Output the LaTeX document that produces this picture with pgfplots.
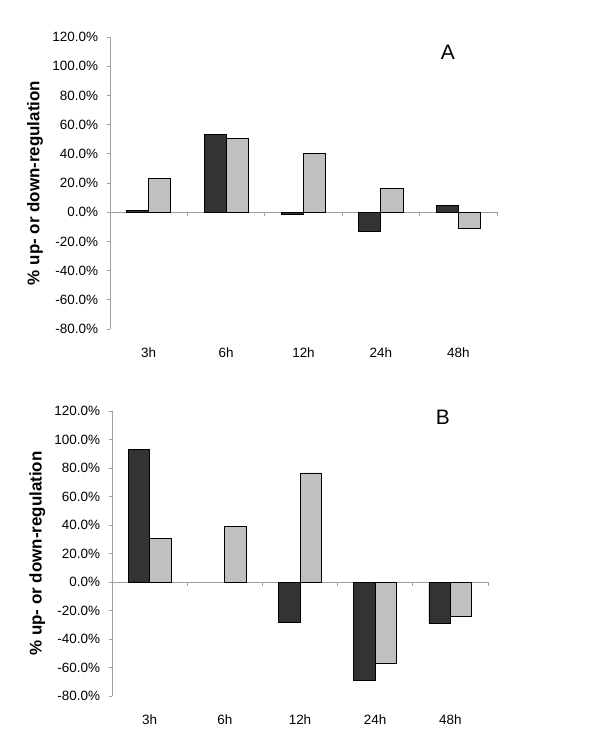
\documentclass[border=0pt]{standalone}
\usepackage{fontspec}
\setmainfont{Liberation Sans}
\usepackage{pgfplots}
\pgfplotsset{compat=1.18}
\definecolor{darkbar}{HTML}{333333}
\definecolor{lightbar}{HTML}{C0C0C0}
\definecolor{axgray}{HTML}{A0A0A0}

\pgfplotsset{
  panel/.style={
    scale only axis,
    anchor=south west,
    xmin=-0.5, xmax=4.5,
    ymin=-80, ymax=120,
    axis y line*=left,
    axis x line*=bottom,
    x axis line style={draw=none},
    y axis line style={draw=axgray, line width=0.8bp},
    ytick={-80,-60,...,120},
    yticklabels={-80.0\%,-60.0\%,-40.0\%,-20.0\%,0.0\%,20.0\%,40.0\%,60.0\%,80.0\%,100.0\%,120.0\%},
    xtick={0,...,4},
    xticklabels={3h,6h,12h,24h,48h},
    major x tick style={draw=none},
    major y tick style={draw=axgray, line width=0.8bp},
    tick align=outside,
    major tick length=3.5bp,
    tick label style={font=\fontsize{13.5}{16}\selectfont},
    yticklabel style={xshift=-5bp},
    xticklabel style={yshift=-12bp},
    ybar, bar width=0.285,
    ylabel={\% up- or down-regulation},
    clip=false,
  },
  darkp/.style={fill=darkbar, draw=black, line width=0.9bp, bar shift=-0.1425},
  lightp/.style={fill=lightbar, draw=black, line width=0.9bp, bar shift=0.1425},
}

\begin{document}
\begin{tikzpicture}
\path[use as bounding box] (0,0) rectangle (600bp,-750bp);

% Panel A
\begin{axis}[panel,
  at={(110bp,-329bp)}, width=387bp, height=292bp,
  every axis y label/.style={at={(axis description cs:-0.194,0.5)}, rotate=90, anchor=center,
    font=\bfseries\fontsize{17}{20}\selectfont}]
  \draw[axgray, line width=0.8bp] (axis cs:-0.5,0) -- (axis cs:4.5,0);
  \pgfplotsinvokeforeach{0.5,1.5,2.5,3.5,4.5}{
    \draw[axgray, line width=0.8bp] (axis cs:#1,0) -- ([yshift=-3.5bp]axis cs:#1,0);
  }
  \addplot[darkp] coordinates {(0,1.5) (1,53.5) (2,-1.8) (3,-13.2) (4,4.3)};
  \addplot[lightp] coordinates {(0,23.1) (1,50.6) (2,40.4) (3,16.4) (4,-11.0)};
  \node[font=\fontsize{21}{24}\selectfont] at (axis description cs:0.873,0.949) {A};
\end{axis}

% Panel B
\begin{axis}[panel,
  at={(112bp,-696bp)}, width=376bp, height=285bp,
  every axis y label/.style={at={(axis description cs:-0.199,0.5)}, rotate=90, anchor=center,
    font=\bfseries\fontsize{17}{20}\selectfont}]
  \draw[axgray, line width=0.8bp] (axis cs:-0.5,0) -- (axis cs:4.5,0);
  \pgfplotsinvokeforeach{0.5,1.5,2.5,3.5,4.5}{
    \draw[axgray, line width=0.8bp] (axis cs:#1,0) -- ([yshift=-3.5bp]axis cs:#1,0);
  }
  \addplot[darkp] coordinates {(0,93.3) (2,-28.2) (3,-69.0) (4,-29.4)};
  \addplot[lightp] coordinates {(0,30.8) (1,39.0) (2,76.5) (3,-57.0) (4,-23.9)};
  \node[font=\fontsize{21}{24}\selectfont] at (axis description cs:0.880,0.979) {B};
\end{axis}
\end{tikzpicture}
\end{document}
